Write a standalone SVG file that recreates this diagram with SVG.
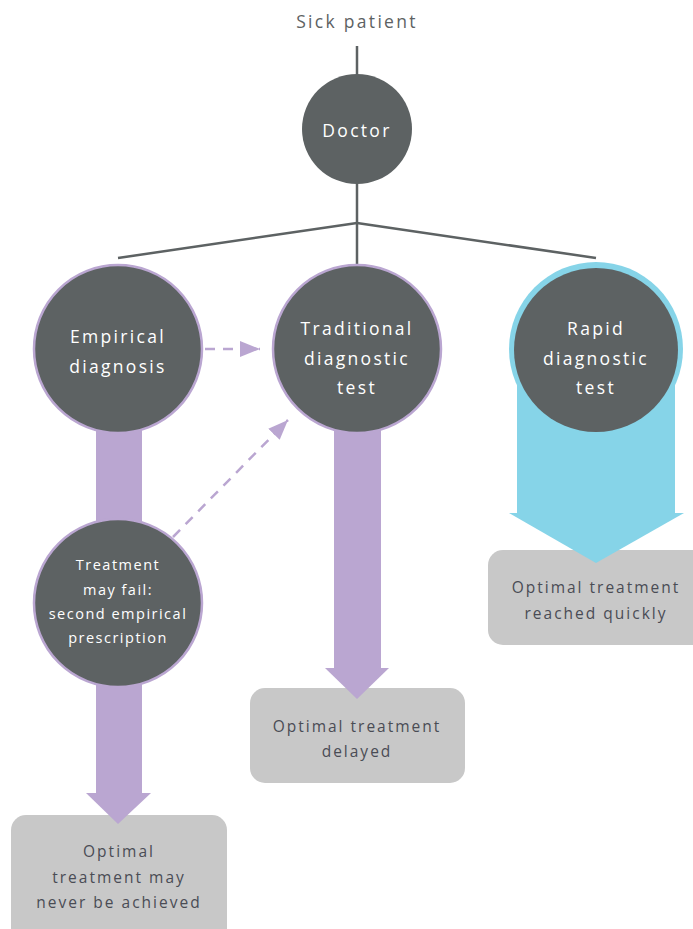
<svg xmlns="http://www.w3.org/2000/svg" width="693" height="929" viewBox="0 0 693 929">
<defs>
<style>
.t{font-family:"Open Sans","Liberation Sans",sans-serif;text-anchor:middle;letter-spacing:1.6px}
.w{fill:#ffffff;font-size:17.5px;letter-spacing:2.3px}
.ws{fill:#ffffff;font-size:14.5px;letter-spacing:1.5px}
.b{fill:#4a4c55;font-size:15.5px;letter-spacing:2px}
.dark{fill:#5d6263}
.pc{fill:#5d6263;stroke:#baa6d1;stroke-width:2.5}
.purple{fill:#baa6d1}
.cyan{fill:#86d4e8}
.box{fill:#c8c8c8}
.ln{stroke:#5d6263;stroke-width:2.5;fill:none}
.dash{stroke:#baa6d1;stroke-width:2.5;fill:none;stroke-dasharray:10 8}
</style>
<marker id="ah" markerUnits="userSpaceOnUse" markerWidth="22" markerHeight="16" refX="20" refY="8" orient="auto">
<path d="M0,0 L20,8 L0,16 Z" fill="#baa6d1"/>
</marker>
</defs>
<rect width="693" height="929" fill="#ffffff"/>
<g id="box-delayed">
<rect class="box" x="250" y="688" width="215" height="95" rx="15"/>
<text class="t b" x="357" y="732">Optimal treatment</text>
<text class="t b" x="357" y="757">delayed</text>
</g>
<g id="box-never">
<rect class="box" x="11" y="815" width="216" height="130" rx="15"/>
<text class="t b" x="119" y="857">Optimal</text>
<text class="t b" x="119" y="883">treatment may</text>
<text class="t b" x="119" y="908">never be achieved</text>
</g>
<g id="box-quickly">
<rect class="box" x="488" y="550" width="230" height="95" rx="15"/>
<text class="t b" x="596" y="593">Optimal treatment</text>
<text class="t b" x="596" y="619">reached quickly</text>
</g>
<g id="connectors">
<line class="ln" x1="357" y1="46" x2="357" y2="76"/>
<line class="ln" x1="357" y1="183" x2="357" y2="266"/>
<line class="ln" x1="357" y1="223" x2="118" y2="258"/>
<line class="ln" x1="357" y1="223" x2="596" y2="258"/>
<rect class="purple" x="96" y="400" width="46" height="394"/>
<polygon class="purple" points="86,793 151,793 118,824"/>
<rect class="purple" x="334" y="400" width="47" height="269"/>
<polygon class="purple" points="325,668 389,668 357,699"/>
<line class="dash" x1="205" y1="349" x2="260" y2="349" marker-end="url(#ah)"/>
<line class="dash" x1="173" y1="537" x2="288" y2="420" marker-end="url(#ah)"/>
</g>
<g id="sick-patient">
<text class="t" x="357" y="28" style="fill:#5d6263;font-size:17.5px;letter-spacing:2.3px">Sick patient</text>
</g>
<g id="doctor">
<circle class="dark" cx="357" cy="129" r="55"/>
<text class="t w" x="357" y="137">Doctor</text>
</g>
<g id="empirical">
<circle class="pc" cx="118" cy="349" r="84"/>
<text class="t w" x="118" y="343">Empirical</text>
<text class="t w" x="118" y="373">diagnosis</text>
</g>
<g id="traditional">
<circle class="pc" cx="357" cy="349" r="84"/>
<text class="t w" x="357" y="335">Traditional</text>
<text class="t w" x="357" y="365">diagnostic</text>
<text class="t w" x="357" y="394">test</text>
</g>
<g id="rapid">
<circle class="cyan" cx="596" cy="349" r="87"/>
<rect class="cyan" x="517" y="349" width="158" height="166"/>
<polygon class="cyan" points="509,513 684,513 596,563"/>
<circle class="dark" cx="596" cy="350" r="82"/>
<text class="t w" x="596" y="335">Rapid</text>
<text class="t w" x="596" y="365">diagnostic</text>
<text class="t w" x="596" y="394">test</text>
</g>
<g id="treatment-fail">
<circle class="pc" cx="118" cy="603" r="84"/>
<text class="t ws" x="118" y="570">Treatment</text>
<text class="t ws" x="118" y="595">may fail:</text>
<text class="t ws" x="118" y="619">second empirical</text>
<text class="t ws" x="118" y="643">prescription</text>
</g>
</svg>
